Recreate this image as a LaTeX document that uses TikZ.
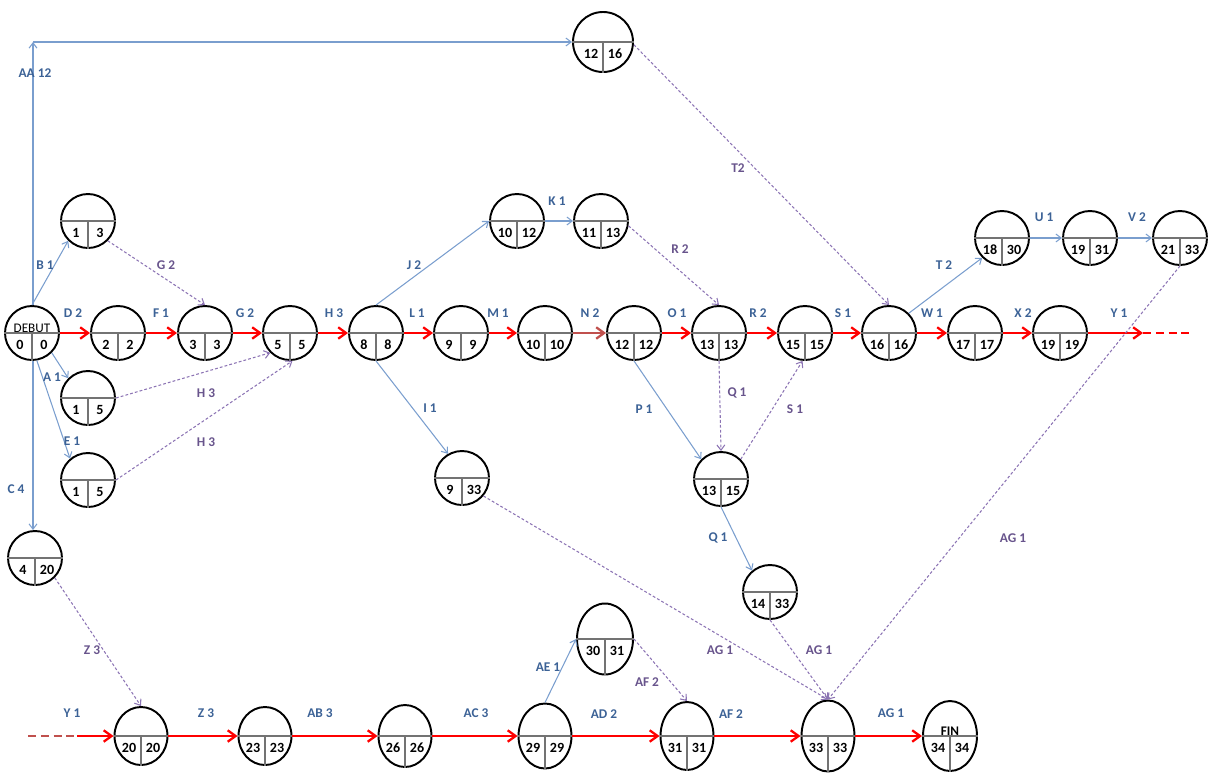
\documentclass[tikz,border=0pt]{standalone}
\usepackage{fontspec}
\setmainfont{Carlito}
\usepackage{xcolor}
\usepackage{tikz}
\usetikzlibrary{shapes.geometric,arrows.meta,calc}
\definecolor{linkblue}{RGB}{122,158,206}
\definecolor{textblue}{RGB}{60,98,150}
\definecolor{slackpurple}{RGB}{140,116,180}
\definecolor{textpurple}{RGB}{104,84,140}
\definecolor{dimred}{RGB}{192,80,77}
\tikzset{
event/.style = {draw, line width=1.1pt, circle, minimum size=1.08cm, inner sep=0pt},
bigevent/.style = {event, minimum size=1.2cm},
oval/.style = {draw, line width=1.1pt, ellipse, inner sep=0pt, minimum width=1.06cm},
divline/.style = {line width=0.7pt, black!55},
num/.style = {font=\bfseries\fontsize{8}{9}\selectfont, inner sep=0pt},
title/.style = {font=\fontsize{7.5}{9}\selectfont, inner sep=0pt},
act/.style = {font=\bfseries\fontsize{7.6}{8}\selectfont, text=textblue, inner sep=1pt},
slack/.style = {act, text=textpurple},
crit/.style = {-{Straight Barb[length=4.5pt,width=6.5pt]}, red, line width=1.3pt},
link/.style = {-{Straight Barb[length=3pt,width=4.5pt]}, linkblue, line width=0.6pt},
dummy/.style = {-{Straight Barb[length=3pt,width=4.5pt]}, slackpurple, line width=0.6pt, dash pattern=on 1.6pt off 1.2pt}
}
% event node: [style] name, position, title, early, late
\newcommand{\evt}[6][event]{%
  \node[#1] (#2) at (#3) {};
  \draw[divline] (#2.west) -- (#2.east) (#2.center) -- (#2.south);
  \node[title] (#2-t) at ([shift={(0,-5)}]#2.center) {#4};
  \node[num] (#2-e) at ([shift={(-12,12)}]#2.center) {#5};
  \node[num] (#2-l) at ([shift={(12,12)}]#2.center) {#6};
}

\begin{document}
\begin{tikzpicture}[x=0.02cm, y=-0.02cm]
    \useasboundingbox (0,0) rectangle (1209,774);
    % events, upper part
    \evt{debut}{32,333}{DEBUT}{0}{0}
    \evt[bigevent]{aa}{603,42}{}{12}{16}
    \evt{b}{88,221}{}{1}{3}
    \evt{d}{118,333}{}{2}{2}
    \evt{f}{205,333}{}{3}{3}
    \evt{g}{290,333}{}{5}{5}
    \evt{a}{88,398}{}{1}{5}
    \evt{e}{88,480}{}{1}{5}
    \evt{c}{35,558}{}{4}{20}
    \evt{h}{376,333}{}{8}{8}
    \evt{j}{517,221}{}{10}{12}
    \evt{k}{601,221}{}{11}{13}
    \evt{l}{461,333}{}{9}{9}
    \evt{m}{545,333}{}{10}{10}
    \evt{n}{634,333}{}{12}{12}
    \evt{o}{719,333}{}{13}{13}
    \evt{r}{805,333}{}{15}{15}
    \evt{s}{889,333}{}{16}{16}
    \evt{t}{1002,238}{}{18}{30}
    \evt{u}{1090,238}{}{19}{31}
    \evt{v}{1180,238}{}{21}{33}
    \evt{w}{975,333}{}{17}{17}
    \evt{x}{1060,333}{}{19}{19}
    \evt{i}{462,478}{}{9}{33}
    \evt{p}{721,479}{}{13}{15}
    \evt{q}{770,592}{}{14}{33}
    % events, lower part
    \evt[oval, minimum height=1.16cm]{n20}{141,736}{}{20}{20}
    \evt[oval, minimum height=1.16cm]{n23}{265,736}{}{23}{23}
    \evt[oval, minimum height=1.24cm]{n26}{405,736}{}{26}{26}
    \evt[oval, minimum height=1.3cm]{n29}{545,736}{}{29}{29}
    \evt[oval, minimum width=1.12cm, minimum height=1.42cm]{n30}{605,639}{}{30}{31}
    \evt[oval, minimum height=1.36cm]{n31}{687,736}{}{31}{31}
    \evt[oval, minimum height=1.42cm]{n33}{828,736}{}{33}{33}
    \evt[oval, minimum width=1.08cm, minimum height=1.4cm]{fin}{950,736}{\bfseries FIN}{34}{34}

    % connectors from the start
    \coordinate (aa-corner) at (33,42);
    \draw[link] (debut.north -| aa-corner) -- (aa-corner);
    \draw[link] (aa-corner) -- (aa.west);
    \draw[link] (debut.north) -- (b.225);
    \draw[crit] (debut.east) -- (d.west);
    \draw[link] (debut.-45) -- (a.135);
    \draw[link] (debut.-80) -- (e.130);
    \draw[link] (debut.south -| aa-corner) -- (c.north -| aa-corner);
    \draw[dummy] (b.-45) -- (f.north);
    \draw[crit] (d.east) -- (f.west);
    \draw[crit] (f.east) -- (g.west);
    \draw[dummy] (a.east) -- (g.225);
    \draw[dummy] (e.east) -- (g.-85);
    \draw[crit] (g.east) -- (h.west);
    \draw[link] (h.north) -- (j.west);
    \draw[link] (j.east) -- (k.west);
    \draw[link] (h.south) -- (i.120);
    \draw[crit] (h.east) -- (l.west);
    \draw[crit] (l.east) -- (m.west);
    \draw[crit, dimred] (m.east) -- (n.west);
    \draw[crit] (n.east) -- (o.west);
    \draw[dummy] (k.-10) -- (o.north);
    \draw[crit] (o.east) -- (r.west);
    \draw[crit] (r.east) -- (s.west);
    \draw[dummy] (aa.-5) -- (s.north);
    \draw[link] (s.45) -- (t.225);
    \draw[link] (t.east) -- (u.west);
    \draw[link] (u.east) -- (v.west);
    \draw[crit] (s.east) -- (w.west);
    \draw[crit] (w.east) -- (x.west);
    \coordinate (y-end) at (1143,333);
    \coordinate (y-cut) at (1193,333);
    \draw[crit] (x.east) -- (y-end);
    \draw[red, line width=1.4pt, dash pattern=on 4.5pt off 2.8pt] (y-end) -- (y-cut);
    \draw[link] (n.south) -- (p.135);
    \draw[dummy] (o.south) -- (p.north);
    \draw[dummy] (p.45) -- (r.-95);
    \draw[link] (p.south) -- (q.130);
    \draw[dummy] (q.south) -- (n33.north);
    \draw[dummy] (i.-40) -- (n33.north);
    \draw[dummy] (v.south) -- (n33.north);
    \draw[dummy] (c.-45) -- (n20.north);
    % lower chain
    \coordinate (y-start) at (28,736);
    \coordinate (y-resume) at (77,736);
    \draw[dimred, line width=1.4pt, dash pattern=on 4.5pt off 2.8pt] (y-start) -- (y-resume);
    \draw[crit] (y-resume) -- (n20.west);
    \draw[crit] (n20.east) -- (n23.west);
    \draw[crit] (n23.east) -- (n26.west);
    \draw[crit] (n26.east) -- (n29.west);
    \draw[crit] (n29.east) -- (n31.west);
    \draw[crit] (n31.east) -- (n33.west);
    \draw[crit] (n33.east) -- (fin.west);
    \draw[link] (n29.north) -- (n30.west);
    \draw[dummy] (n30.east) -- (n31.north);

    % activity labels
    \node[act] (l-aa) at (35,73) {AA 12};
    \node[act] (l-b) at (45,265) {B 1};
    \node[act] (l-d) at (73,313) {D 2};
    \node[act] (l-a) at (52,377) {A 1};
    \node[act] (l-e) at (72,441) {E 1};
    \node[act] (l-c) at (16,489) {C 4};
    \node[act] (l-f) at (161,313) {F 1};
    \node[slack] (l-g1) at (166,265) {G 2};
    \node[act] (l-g2) at (245,313) {G 2};
    \node[slack] (l-h1) at (206,393) {H 3};
    \node[slack] (l-h2) at (206,442) {H 3};
    \node[act] (l-h3) at (334,313) {H 3};
    \node[act] (l-j) at (414,265) {J 2};
    \node[act] (l-k) at (557,201) {K 1};
    \node[act] (l-l) at (417,313) {L 1};
    \node[act] (l-i) at (430,408) {I 1};
    \node[act] (l-m) at (498,313) {M 1};
    \node[act] (l-n) at (590,313) {N 2};
    \node[slack] (l-r1) at (680,249) {R 2};
    \node[act] (l-o) at (677,313) {O 1};
    \node[act] (l-r2) at (758,313) {R 2};
    \node[act] (l-s1) at (843,313) {S 1};
    \node[slack] (l-t1) at (738,168) {T2};
    \node[slack] (l-q1) at (737,393) {Q 1};
    \node[slack] (l-s2) at (795,409) {S 1};
    \node[act] (l-p) at (644,409) {P 1};
    \node[act] (l-q2) at (718,538) {Q 1};
    \node[act] (l-t2) at (944,265) {T 2};
    \node[act] (l-u) at (1044,217) {U 1};
    \node[act] (l-v) at (1137,217) {V 2};
    \node[act] (l-w) at (932,313) {W 1};
    \node[act] (l-x) at (1023,313) {X 2};
    \node[act] (l-y1) at (1119,313) {Y 1};
    \node[slack] (l-ag1) at (1013,538) {AG 1};
    \node[slack] (l-z1) at (92,650) {Z 3};
    \node[act] (l-y2) at (72,713) {Y 1};
    \node[act] (l-z2) at (206,713) {Z 3};
    \node[act] (l-ab) at (320,713) {AB 3};
    \node[act] (l-ac) at (476,713) {AC 3};
    \node[act] (l-ae) at (548,667) {AE 1};
    \node[slack] (l-af1) at (647,682) {AF 2};
    \node[act] (l-ad) at (604,714) {AD 2};
    \node[act] (l-af2) at (731,714) {AF 2};
    \node[slack] (l-ag2) at (720,650) {AG 1};
    \node[slack] (l-ag3) at (819,650) {AG 1};
    \node[act] (l-ag4) at (891,713) {AG 1};
\end{tikzpicture}
\end{document}
